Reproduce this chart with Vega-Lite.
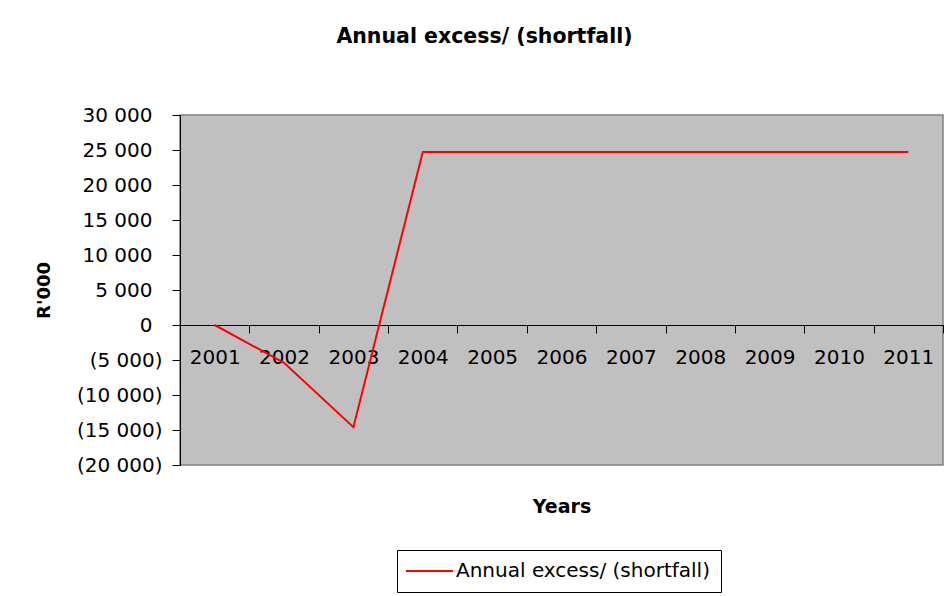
{
  "$schema": "https://vega.github.io/schema/vega-lite/v6.json",
  "width": 763,
  "height": 350,
  "autosize": {"type": "none"},
  "padding": {"left": 180, "top": 115, "right": 8, "bottom": 131},
  "background": "white",
  "title": {
    "text": "Annual excess/ (shortfall)",
    "font": "DejaVu Sans",
    "fontSize": 20.5,
    "fontWeight": "bold",
    "color": "black",
    "anchor": "middle",
    "dx": -77,
    "offset": 58
  },
  "data": {
    "values": [
      {"year": "2001", "value": 0, "series": "Annual excess/ (shortfall)"},
      {"year": "2002", "value": -5400, "series": "Annual excess/ (shortfall)"},
      {"year": "2003", "value": -14600, "series": "Annual excess/ (shortfall)"},
      {"year": "2004", "value": 24700, "series": "Annual excess/ (shortfall)"},
      {"year": "2005", "value": 24700, "series": "Annual excess/ (shortfall)"},
      {"year": "2006", "value": 24700, "series": "Annual excess/ (shortfall)"},
      {"year": "2007", "value": 24700, "series": "Annual excess/ (shortfall)"},
      {"year": "2008", "value": 24700, "series": "Annual excess/ (shortfall)"},
      {"year": "2009", "value": 24700, "series": "Annual excess/ (shortfall)"},
      {"year": "2010", "value": 24700, "series": "Annual excess/ (shortfall)"},
      {"year": "2011", "value": 24700, "series": "Annual excess/ (shortfall)"}
    ]
  },
  "mark": {"type": "line", "strokeWidth": 2},
  "encoding": {
    "x": {
      "field": "year",
      "type": "ordinal",
      "bandPosition": 0.5,
      "scale": {"type": "band", "paddingInner": 0, "paddingOuter": 0},
      "axis": {
        "title": "Years",
        "offset": -140,
        "labelAngle": 0,
        "tickBand": "extent",
        "tickSize": 8,
        "tickColor": "black",
        "domainColor": "black",
        "domainWidth": 1,
        "labelFont": "DejaVu Sans",
        "labelFontSize": 20,
        "labelColor": "black",
        "labelPadding": 14,
        "titleFont": "DejaVu Sans",
        "titleFontSize": 19,
        "titleFontWeight": "bold",
        "titleColor": "black",
        "titlePadding": 130
      }
    },
    "y": {
      "field": "value",
      "type": "quantitative",
      "scale": {"domain": [-20000, 30000], "nice": false, "zero": false},
      "axis": {
        "title": "R'000",
        "values": [-20000, -15000, -10000, -5000, 0, 5000, 10000, 15000, 20000, 25000, 30000],
        "labelExpr": "datum.value < 0 ? '(' + replace(format(-datum.value, ',d'), ',', ' ') + ')' : replace(format(datum.value, ',d'), ',', ' ')",
        "grid": false,
        "tickSize": 8,
        "tickColor": "black",
        "domainColor": "black",
        "labelFont": "DejaVu Sans",
        "labelFontSize": 20,
        "labelColor": "black",
        "labelPadding": {"condition": {"test": "datum.value < 0", "value": 10}, "value": 20},
        "titleFont": "DejaVu Sans",
        "titleFontSize": 18,
        "titleFontWeight": "bold",
        "titleColor": "black",
        "titlePadding": 23
      }
    },
    "color": {
      "field": "series",
      "type": "nominal",
      "scale": {"range": ["#FF0000"]},
      "legend": {
        "title": null,
        "orient": "none",
        "legendX": 217,
        "legendY": 435,
        "strokeColor": "black",
        "fillColor": "white",
        "padding": 11,
        "symbolType": "M0,0H9.4",
        "symbolSize": 100,
        "symbolOffset": -12,
        "symbolStrokeWidth": 2,
        "labelFont": "DejaVu Sans",
        "labelFontSize": 20,
        "labelColor": "black",
        "labelOffset": 40,
        "labelLimit": 400
      }
    }
  },
  "config": {
    "view": {"fill": "#C0C0C0", "stroke": "#808080", "strokeWidth": 1.5}
  }
}
